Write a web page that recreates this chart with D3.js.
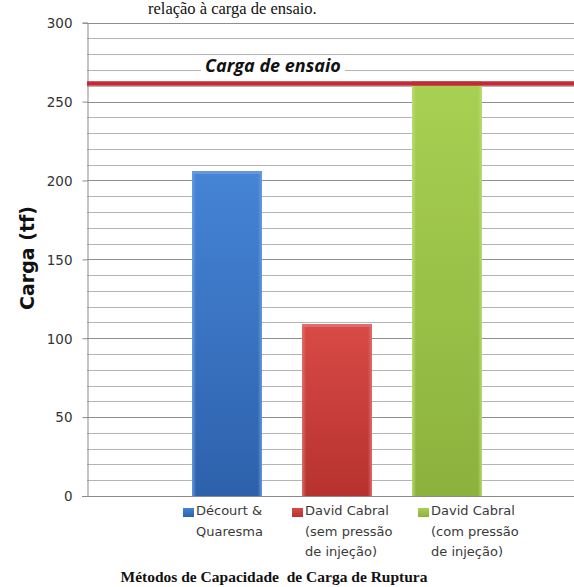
<!DOCTYPE html>
<html>
<head>
<meta charset="utf-8">
<script src="https://cdn.jsdelivr.net/npm/d3@7"></script>
<style>
  html, body { margin: 0; padding: 0; background: #fff; }
  svg { display: block; }
</style>
</head>
<body>
<svg id="chart" width="574" height="587"></svg>
<script>
// Capacidade de carga de ruptura por método, comparada com a carga de ensaio
const category = ["Métodos"];
const seriesNames = ["Décourt & Quaresma", "David Cabral (sem pressão de injeção)", "David Cabral (com pressão de injeção)"];
const legendLines = [
  ["Décourt &", "Quaresma"],
  ["David Cabral", "(sem pressão", "de injeção)"],
  ["David Cabral", "(com pressão", "de injeção)"]
];
const seriesValues = [206, 109, 263];
const testLoad = 261.5;
const testLoadLabel = "Carga de ensaio";
const yTicks = [0, 50, 100, 150, 200, 250, 300];
const yMinor = [10, 20, 30, 40, 60, 70, 80, 90, 110, 120, 130, 140, 160, 170, 180, 190, 210, 220, 230, 240, 260, 270, 280, 290];
const yTitle = "Carga (tf)";
const xTitle = "Métodos de Capacidade  de Carga de Ruptura";
const topCaption = "relação à carga de ensaio.";
const palette = [
  { top: "#4684d6", bottom: "#2d61ac", edge: "#6a9ee2" },
  { top: "#d84a46", bottom: "#b7322e", edge: "#e07370" },
  { top: "#a8d052", bottom: "#8cb23d", edge: "#bcdc78" }
];

const svg = d3.select("#chart");
const plot = { left: 87, right: 587, top: 22.7, bottom: 496 };

const y = d3.scaleLinear().domain([0, 300]).range([plot.bottom, plot.top]);
const x0 = d3.scaleBand().domain(category).range([plot.left, plot.right])
  .paddingInner(0).paddingOuter(0.2576);
const x1 = d3.scaleBand().domain(d3.range(seriesValues.length)).range([0, x0.bandwidth()])
  .paddingInner(0.3636).paddingOuter(0.1818);

const defs = svg.append("defs");
palette.forEach((p, i) => {
  const gv = defs.append("linearGradient").attr("id", "gv" + i)
    .attr("x1", 0).attr("y1", 0).attr("x2", 0).attr("y2", 1);
  gv.append("stop").attr("offset", "0%").attr("stop-color", p.top);
  gv.append("stop").attr("offset", "100%").attr("stop-color", p.bottom);
  const gh = defs.append("linearGradient").attr("id", "gh" + i)
    .attr("x1", 0).attr("y1", 0).attr("x2", 1).attr("y2", 0);
  gh.append("stop").attr("offset", "0%").attr("stop-color", p.edge).attr("stop-opacity", 0.9);
  gh.append("stop").attr("offset", "6%").attr("stop-color", p.edge).attr("stop-opacity", 0);
  gh.append("stop").attr("offset", "94%").attr("stop-color", p.edge).attr("stop-opacity", 0);
  gh.append("stop").attr("offset", "100%").attr("stop-color", p.edge).attr("stop-opacity", 0.9);
});

// caption line at the top edge
svg.append("text")
  .attr("x", 148).attr("y", 14)
  .attr("font-family", "Liberation Serif, serif").attr("font-size", 16.5)
  .attr("fill", "#111")
  .text(topCaption);

// gridlines
const grid = svg.append("g");
grid.selectAll("line.minor").data(yMinor).join("line")
  .attr("class", "minor")
  .attr("x1", plot.left).attr("x2", 574)
  .attr("y1", d => Math.round(y(d)) + 0.5).attr("y2", d => Math.round(y(d)) + 0.5)
  .attr("stroke", "#b4b4b4").attr("stroke-width", 1);
grid.selectAll("line.major").data(yTicks.filter(d => d > 0)).join("line")
  .attr("class", "major")
  .attr("x1", plot.left).attr("x2", 574)
  .attr("y1", d => Math.round(y(d)) + 0.5).attr("y2", d => Math.round(y(d)) + 0.5)
  .attr("stroke", "#8e8e8e").attr("stroke-width", 1);

// y axis
const yAxis = d3.axisLeft(y).tickValues(yTicks).tickSize(5).tickPadding(10);
const gy = svg.append("g")
  .attr("transform", `translate(${plot.left + 0.5},0)`)
  .call(yAxis);
gy.select(".domain").attr("stroke", "#8a8a8a");
gy.selectAll(".tick line").attr("stroke", "#8a8a8a");
gy.selectAll(".tick text")
  .attr("font-family", "DejaVu Sans, sans-serif").attr("font-size", 13.5)
  .attr("fill", "#333").attr("dy", "0.36em");

// bars
const group = svg.append("g").selectAll("g").data(category).join("g")
  .attr("transform", d => `translate(${x0(d)},0)`);
const bars = group.selectAll("g.bar")
  .data(seriesValues.map((v, i) => ({ v, i })))
  .join("g").attr("class", "bar");
bars.append("rect")
  .attr("x", d => x1(d.i)).attr("width", x1.bandwidth())
  .attr("y", d => y(d.v)).attr("height", d => y(0) - y(d.v))
  .attr("fill", d => `url(#gv${d.i})`);
bars.append("rect")
  .attr("x", d => x1(d.i)).attr("width", x1.bandwidth())
  .attr("y", d => y(d.v)).attr("height", d => y(0) - y(d.v))
  .attr("fill", d => `url(#gh${d.i})`);
bars.append("rect")
  .attr("x", d => x1(d.i) + 1).attr("width", x1.bandwidth() - 2)
  .attr("y", d => y(d.v)).attr("height", 3)
  .attr("fill", d => palette[d.i].edge).attr("opacity", 0.8);

// x axis baseline
svg.append("line")
  .attr("x1", plot.left - 5).attr("x2", 574)
  .attr("y1", Math.round(y(0)) + 0.5).attr("y2", Math.round(y(0)) + 0.5)
  .attr("stroke", "#8a8a8a");

// test load reference line and label
svg.append("line")
  .attr("x1", plot.left).attr("x2", 574)
  .attr("y1", y(testLoad)).attr("y2", y(testLoad))
  .attr("stroke", "#c42a35").attr("stroke-width", 4.5);
const lblBg = svg.append("rect").attr("fill", "#fff");
const lbl = svg.append("text")
  .attr("x", 205).attr("y", 72)
  .attr("font-family", "Open Sans, sans-serif").attr("font-size", 18)
  .attr("font-weight", "bold").attr("font-style", "italic")
  .attr("fill", "#111")
  .text(testLoadLabel);
const bb = lbl.node().getBBox();
lblBg.attr("x", bb.x - 4).attr("y", bb.y + 2).attr("width", bb.width + 8).attr("height", bb.height - 6);

// y title
svg.append("text")
  .attr("transform", `translate(34,258) rotate(-90)`)
  .attr("text-anchor", "middle")
  .attr("font-family", "DejaVu Sans, sans-serif").attr("font-size", 19)
  .attr("font-weight", "bold").attr("fill", "#111")
  .text(yTitle);

// legend below the bars
const legendX = [183, 292, 418];
const legend = svg.append("g").selectAll("g").data(legendLines).join("g")
  .attr("transform", (d, i) => `translate(${legendX[i]},0)`);
legend.append("rect")
  .attr("x", 0).attr("y", 508).attr("width", 11).attr("height", 9)
  .attr("fill", (d, i) => `url(#gv${i})`);
legend.append("text")
  .attr("font-family", "DejaVu Sans, sans-serif").attr("font-size", 13)
  .attr("fill", "#3a3a3a")
  .selectAll("tspan").data(d => d).join("tspan")
  .attr("x", 13).attr("y", (d, j) => 515 + j * 20.5)
  .text(d => d);

// x title
svg.append("text")
  .attr("x", 274).attr("y", 582)
  .attr("text-anchor", "middle")
  .attr("font-family", "Liberation Serif, serif").attr("font-size", 15.5)
  .attr("font-weight", "bold").attr("fill", "#111")
  .style("white-space", "pre")
  .text(xTitle);
</script>
</body>
</html>
